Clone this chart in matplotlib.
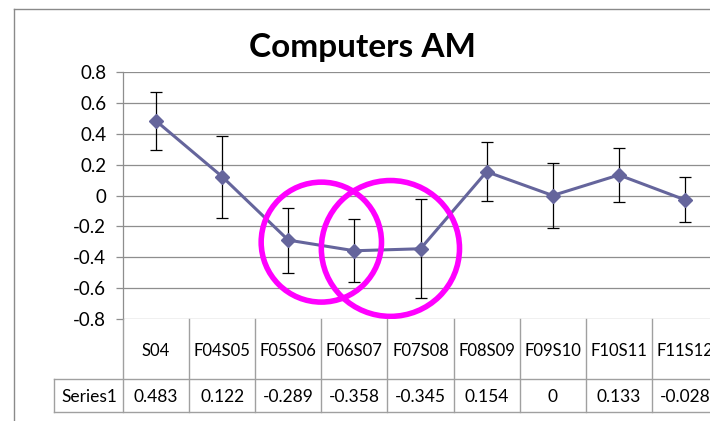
import numpy as np
import matplotlib.pyplot as plt
from matplotlib.patches import Ellipse
from matplotlib.lines import Line2D
from matplotlib import transforms

plt.rcParams['font.family'] = ['Lato', 'DejaVu Sans']

# data
categories = ['S04', 'F04S05', 'F05S06', 'F06S07', 'F07S08',
              'F08S09', 'F09S10', 'F10S11', 'F11S12']
values = [0.483, 0.122, -0.289, -0.358, -0.345, 0.154, 0, 0.133, -0.028]
errors = [0.19, 0.265, 0.21, 0.205, 0.32, 0.19, 0.21, 0.175, 0.145]
series_name = 'Series1'
title = 'Computers AM'

W, H = 710, 421
fig = plt.figure(figsize=(W / 100, H / 100), dpi=100)

def fx(px):
    return px / W

def fy(py):
    return 1 - py / H

# plot area: x from 123 to 718 px, y from 72 to 319 px
ax = fig.add_axes([fx(123), fy(319), fx(718) - fx(123), fy(72) - fy(319)])

line_col = '#65659c'
grid_col = '#8e8e8e'
x = np.arange(len(categories))

ax.errorbar(x, values, yerr=errors, fmt='none', ecolor='black',
            elinewidth=0.9, capsize=4.2, capthick=0.9, zorder=2)
ax.plot(x, values, color=line_col, lw=2.2, marker='D', ms=7.5,
        zorder=3)

ax.set_xlim(-0.5, len(categories) - 0.5)
ax.set_ylim(-0.8, 0.8)
ax.set_yticks(np.arange(-0.8, 0.81, 0.2))
ax.set_yticklabels(['-0.8', '-0.6', '-0.4', '-0.2', '0', '0.2', '0.4',
                    '0.6', '0.8'])
ax.set_xticks([])
ax.tick_params(axis='y', length=5, width=0.9, color=grid_col, pad=7,
               labelsize=13.5)
ax.grid(axis='y', color=grid_col, lw=0.9)
ax.set_axisbelow(True)
for s in ['top', 'right', 'bottom']:
    ax.spines[s].set_visible(False)
ax.spines['left'].set_color(grid_col)
ax.spines['left'].set_linewidth(0.9)

# highlight circles
ax.add_patch(Ellipse((2.5, -0.302), 1.82, 0.777, fill=False,
                     ec='#ff00ff', lw=4, zorder=4))
ax.add_patch(Ellipse((3.545, -0.343), 2.09, 0.88, fill=False,
                     ec='#ff00ff', lw=4, zorder=4))

fig.text(fx(362), fy(47), title, ha='center', va='center',
         fontsize=24, fontweight='bold')

# data table under the plot
tr = transforms.blended_transform_factory(ax.transData, fig.transFigure)
tcol = '#a0a0a0'
y_top, y_mid, y_bot = fy(319), fy(379), fy(412)
n = len(categories)
for i in range(n + 1):
    fig.add_artist(Line2D([i - 0.5, i - 0.5], [y_top, y_bot], transform=tr,
                          color=tcol, lw=1))
fig.add_artist(Line2D([fx(54), 1], [y_mid, y_mid], color=tcol, lw=1))
fig.add_artist(Line2D([fx(54), 1], [y_bot, y_bot], color=tcol, lw=1))
fig.add_artist(Line2D([fx(54), fx(54)], [y_mid, y_bot], color=tcol, lw=1))
for i, (c, v) in enumerate(zip(categories, values)):
    fig.text(i, fy(351), c, transform=tr, ha='center', va='center',
             fontsize=12)
    fig.text(i, fy(397), '{:g}'.format(v), transform=tr, ha='center',
             va='center', fontsize=12.5)
fig.text(fx(89), fy(397), series_name, ha='center', va='center',
         fontsize=12.5)

# chart frame
fig.add_artist(Line2D([fx(14), fx(14)], [0, fy(9)], color='#8a8a8a', lw=1))
fig.add_artist(Line2D([fx(14), 1], [fy(9), fy(9)], color='#8a8a8a', lw=1))

fig.savefig('out.png', dpi=100)
